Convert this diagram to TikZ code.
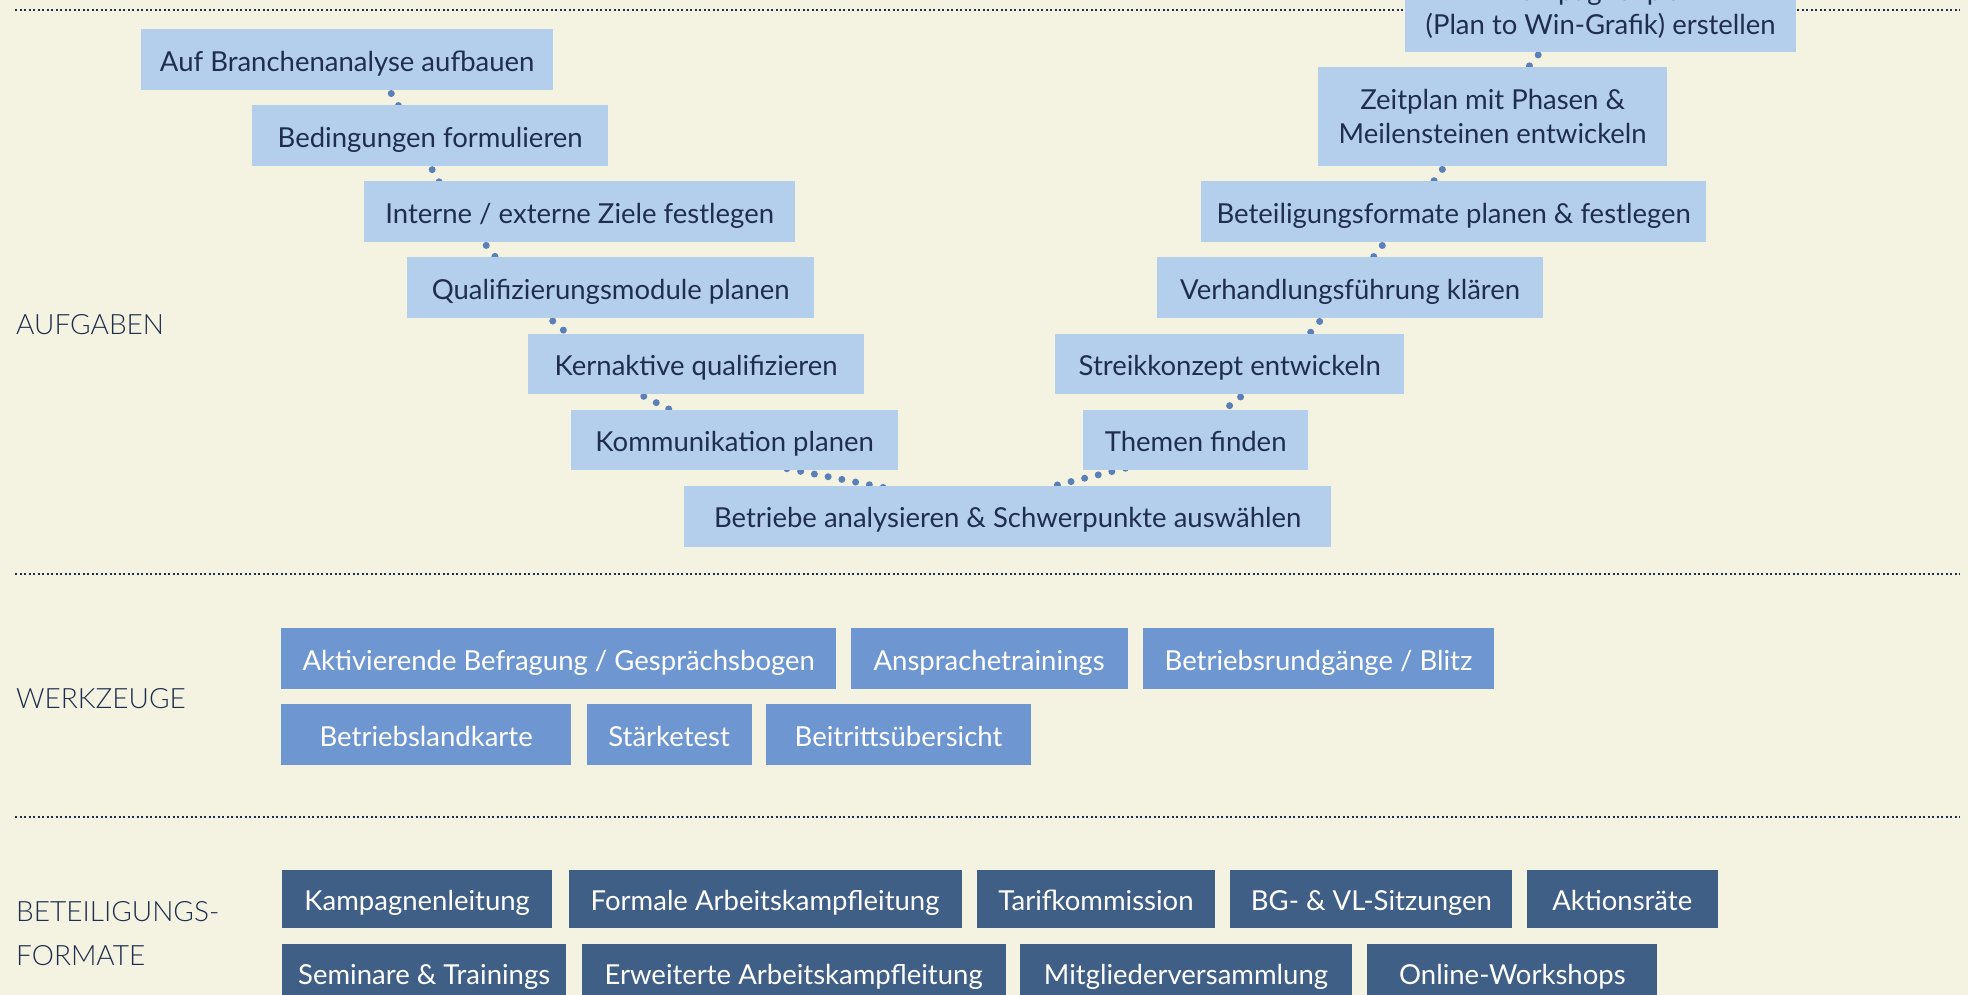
\documentclass[tikz,border=0pt]{standalone}
\usepackage{fontspec}
\setmainfont{Lato}
\newfontfamily\lightfont{Lato Light}
\usepackage{tikz}
\usetikzlibrary{positioning}
\definecolor{paper}{HTML}{F4F2E1}
\definecolor{ink}{HTML}{1F2E4E}
\definecolor{steplight}{HTML}{B4CFEC}
\definecolor{toolblue}{HTML}{6E97D1}
\definecolor{formdark}{HTML}{3F5F87}
\definecolor{dotblue}{HTML}{5A80B7}
\pgfdeclarelayer{back}
\pgfdeclarelayer{links}
\pgfsetlayers{back,links,main}

\begin{document}
\begin{tikzpicture}[
			x=1pt, y=-1pt,
			node distance=15pt,
			box/.style={rectangle, inner sep=0pt, minimum height=60.7pt, text height=25pt, text depth=2pt,
				font=\fontsize{27.5}{34}\selectfont},
			stepbox/.style={box, fill=steplight, text=ink},
			toolbox/.style={box, fill=toolblue, text=white},
			formbox/.style={box, fill=formdark, text=white, minimum height=58pt},
			twoline/.style={rectangle, inner sep=0pt, fill=steplight, text=ink, align=center,
				font=\fontsize{27.5}{34}\selectfont},
			rowlabel/.style={inner sep=0pt, anchor=west, align=left, text=ink, font=\lightfont\fontsize{28}{44}\selectfont},
			link/.style={draw=dotblue, line width=7pt, line cap=round, dash pattern=on 0pt off 14pt,
				shorten <=-10pt, shorten >=-10pt},
			sep/.style={draw=ink, line width=2pt, dash pattern=on 2pt off 2.5pt}
			]
			\useasboundingbox (0,0) rectangle (1968,995);
			
			\node[stepbox, minimum width=412pt, anchor=north west] (auf) at (141,29) {Auf Branchenanalyse aufbauen};
			\node[stepbox, minimum width=356pt, below=of auf.south west, anchor=north west, xshift=111pt] (bed) {Bedingungen formulieren};
			\node[stepbox, minimum width=431pt, below=of bed.south west, anchor=north west, xshift=112pt] (ziele) {Interne / externe Ziele festlegen};
			\node[stepbox, minimum width=407pt, below=of ziele.south west, anchor=north west, xshift=43pt] (module) {Qualifizierungsmodule planen};
			\node[stepbox, minimum width=336pt, below=of module.south west, anchor=north west, xshift=121pt] (kern) {Kernaktive qualifizieren};
			\node[stepbox, minimum width=327pt, below=of kern.south west, anchor=north west, xshift=43pt] (komm) {Kommunikation planen};
			\node[stepbox, minimum width=647pt, below=of komm.south west, anchor=north west, xshift=113pt] (betr) {Betriebe analysieren \& Schwerpunkte auswählen};
			\node[stepbox, minimum width=225pt, above=of betr.north east, anchor=south east, xshift=-23pt] (themen) {Themen finden};
			\node[stepbox, minimum width=349pt, above=of themen.north east, anchor=south east, xshift=96pt] (streik) {Streikkonzept entwickeln};
			\node[stepbox, minimum width=386pt, above=of streik.north east, anchor=south east, xshift=139pt] (verh) {Verhandlungsführung klären};
			\node[stepbox, minimum width=505pt, above=of verh.north east, anchor=south east, xshift=163pt] (formate) {Beteiligungsformate planen \& festlegen};
			\node[twoline, minimum width=349pt, minimum height=99pt, above=of formate.north east, anchor=south east, xshift=-39pt] (zeit) {Zeitplan mit Phasen \&\\Meilensteinen entwickeln};
			\node[twoline, minimum width=391pt, minimum height=85pt, above=of zeit.north east, anchor=south east, xshift=129pt] (plan) {Kampagnenplan\\(Plan to Win-Grafik) erstellen};
			
			\node[toolbox, minimum width=555pt, anchor=north west] (befragung) at (281,628) {Aktivierende Befragung / Gesprächsbogen};
			\node[toolbox, minimum width=277pt, right=14pt of befragung] (ansprache) {Ansprachetrainings};
			\node[toolbox, minimum width=351pt, right=of ansprache] (rundgang) {Betriebsrundgänge / Blitz};
			\node[toolbox, minimum width=290pt, below=of befragung.south west, anchor=north west] (landkarte) {Betriebslandkarte};
			\node[toolbox, minimum width=165pt, right=of landkarte] (staerke) {Stärketest};
			\node[toolbox, minimum width=265pt, right=14pt of staerke] (beitritt) {Beitrittsübersicht};
			
			\node[formbox, minimum width=270pt, anchor=north west] (leitung) at (282,870) {Kampagnenleitung};
			\node[formbox, minimum width=393pt, right=16pt of leitung] (akl) {Formale Arbeitskampfleitung};
			\node[formbox, minimum width=238pt, right=of akl] (tarif) {Tarifkommission};
			\node[formbox, minimum width=282pt, right=of tarif] (bgvl) {BG- \& VL-Sitzungen};
			\node[formbox, minimum width=191pt, right=14pt of bgvl] (raete) {Aktionsräte};
			\node[formbox, minimum width=284pt, below=of leitung.south west, anchor=north west] (seminare) {Seminare \& Trainings};
			\node[formbox, minimum width=424pt, right=of seminare] (erw) {Erweiterte Arbeitskampfleitung};
			\node[formbox, minimum width=332pt, right=14pt of erw] (mv) {Mitgliederversammlung};
			\node[formbox, minimum width=290pt, right=of mv] (online) {Online-Workshops};
			
			\node[rowlabel] (aufgaben) at (16,325) {AUFGABEN};
			\node[rowlabel] (werkzeuge) at (16,699) {WERKZEUGE};
			\node[rowlabel] (betlabel) at (16,934) {BETEILIGUNGS-\\FORMATE};
			
			\begin{pgfonlayer}{back}
				\fill[paper] (0,0) rectangle (1968,995);
				\draw[sep] (15,10) -- (1960,10);
				\draw[sep] (15,573.5) -- (1960,573.5);
				\draw[sep] (15,816.5) -- (1960,816.5);
			\end{pgfonlayer}
			
			\begin{pgfonlayer}{links}
				\draw[link] ([xshift=42pt]auf.south) -- ([xshift=-32pt]bed.north);
				\draw[link] (bed.south) -- ([xshift=-141pt]ziele.north);
				\draw[link] ([xshift=-96pt]ziele.south) -- ([xshift=-115pt]module.north);
				\draw[link] ([xshift=-61pt]module.south) -- ([xshift=-129pt]kern.north);
				\draw[link] ([xshift=-56pt]kern.south) -- ([xshift=-65pt]komm.north);
				\draw[link] ([xshift=62pt]komm.south) -- ([xshift=-134pt]betr.north);
				\draw[link] ([xshift=-80pt]themen.south) -- ([xshift=47pt]betr.north);
				\draw[link] ([xshift=14pt]streik.south) -- ([xshift=29pt]themen.north);
				\draw[link] ([xshift=-28pt]verh.south) -- ([xshift=80pt]streik.north);
				\draw[link] ([xshift=-69pt]formate.south) -- ([xshift=23pt]verh.north);
				\draw[link] ([xshift=-48pt]zeit.south) -- ([xshift=-20pt]formate.north);
				\draw[link] ([xshift=-60pt]plan.south) -- ([xshift=36pt]zeit.north);
			\end{pgfonlayer}
		\end{tikzpicture}
\end{document}
